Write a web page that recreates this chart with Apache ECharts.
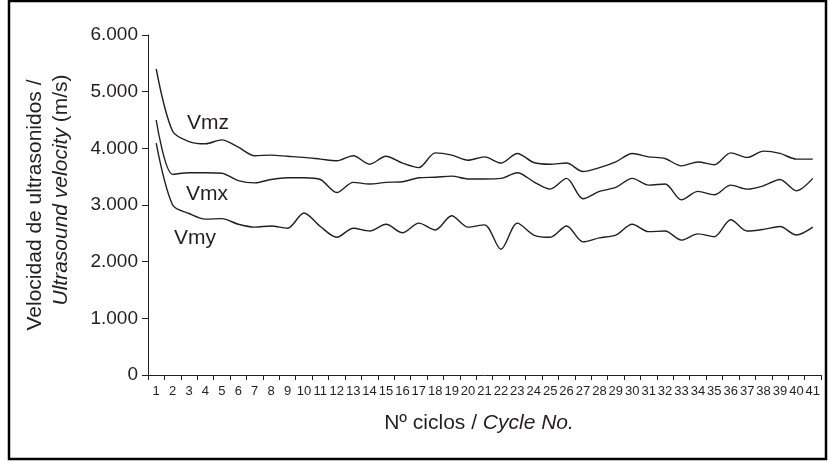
<!DOCTYPE html>
<html>
<head>
<meta charset="utf-8">
<script src="https://cdn.jsdelivr.net/npm/echarts@6/dist/echarts.min.js"></script>
<style>
  html, body { margin: 0; padding: 0; background: #fff; }
  #chart { width: 828px; height: 461px; }
</style>
</head>
<body>
<div id="chart"></div>
<script>
// ciclos 1..41
const cycles = Array.from({ length: 41 }, (_, i) => String(i + 1));

// velocidades (m/s)
const vmz = [5400, 4300, 4120, 4080, 4150, 4020, 3870, 3880, 3860, 3840,
  3810, 3780, 3870, 3720, 3860, 3740, 3660, 3920, 3880, 3790,
  3850, 3740, 3910, 3750, 3720, 3740, 3590, 3660, 3760, 3910,
  3850, 3820, 3690, 3760, 3710, 3920, 3840, 3950, 3910, 3810, 3810];
const vmx = [4500, 3540, 3570, 3570, 3560, 3430, 3390, 3450, 3480, 3480,
  3450, 3220, 3400, 3370, 3400, 3410, 3480, 3490, 3510, 3460,
  3460, 3470, 3570, 3410, 3280, 3470, 3110, 3240, 3310, 3470,
  3350, 3370, 3090, 3240, 3180, 3350, 3280, 3340, 3450, 3250, 3470];
const vmy = [4090, 3000, 2850, 2750, 2760, 2660, 2610, 2630, 2590, 2860,
  2620, 2430, 2590, 2540, 2660, 2510, 2680, 2560, 2810, 2610,
  2650, 2220, 2680, 2470, 2430, 2630, 2350, 2420, 2470, 2660,
  2530, 2540, 2380, 2490, 2440, 2740, 2540, 2570, 2620, 2470, 2610];

const ink = '#231f20';
const font = "'Liberation Sans', Arial, sans-serif";

function lineSeries(name, data) {
  return {
    name: name,
    type: 'line',
    data: data,
    symbol: 'none',
    smooth: 0.3,
    lineStyle: { color: ink, width: 1.4 },
    silent: true
  };
}

const chart = echarts.init(document.getElementById('chart'));
chart.setOption({
  animation: false,
  backgroundColor: '#fff',
  grid: { left: 148, right: 7, top: 35, bottom: 86, containLabel: false },
  xAxis: {
    type: 'category',
    data: cycles,
    boundaryGap: true,
    axisLine: { lineStyle: { color: ink, width: 1 } },
    axisTick: { show: true, interval: 0, length: 5, lineStyle: { color: ink } },
    axisLabel: { interval: 0, fontSize: 13, margin: 10, color: ink, fontFamily: font }
  },
  yAxis: {
    type: 'value',
    min: 0,
    max: 6000,
    interval: 1000,
    splitLine: { show: false },
    axisLine: { show: true, lineStyle: { color: ink, width: 1 } },
    axisTick: { show: true, length: 6, lineStyle: { color: ink } },
    axisLabel: {
      fontSize: 19,
      margin: 10,
      color: ink,
      fontFamily: font,
      formatter: v => v === 0 ? '0' : (v / 1000).toFixed(3)
    }
  },
  series: [
    lineSeries('Vmz', vmz),
    lineSeries('Vmx', vmx),
    lineSeries('Vmy', vmy)
  ],
  graphic: [
    {
      type: 'rect',
      shape: { x: 9, y: 1, width: 817, height: 458 },
      style: { fill: 'none', stroke: '#000', lineWidth: 2.5 },
      silent: true
    },
    { type: 'text', x: 208, y: 123, style: { text: 'Vmz', font: '21px ' + font, fill: ink, align: 'center', verticalAlign: 'middle' } },
    { type: 'text', x: 207, y: 194, style: { text: 'Vmx', font: '21px ' + font, fill: ink, align: 'center', verticalAlign: 'middle' } },
    { type: 'text', x: 195, y: 238, style: { text: 'Vmy', font: '21px ' + font, fill: ink, align: 'center', verticalAlign: 'middle' } },
    {
      type: 'text', x: 35, y: 205, rotation: Math.PI / 2,
      style: { text: 'Velocidad de ultrasonidos /', font: '21px ' + font, fill: ink, align: 'center', verticalAlign: 'middle' }
    },
    {
      type: 'text', x: 61, y: 190, rotation: Math.PI / 2,
      style: {
        text: '{i|Ultrasound velocity} (m/s)',
        font: '21px ' + font, fill: ink, align: 'center', verticalAlign: 'middle',
        rich: { i: { fontStyle: 'italic', fontSize: 21, fontFamily: font, fill: ink } }
      }
    },
    {
      type: 'text', x: 479, y: 423,
      style: {
        text: 'Nº ciclos / {i|Cycle No.}',
        font: '21px ' + font, fill: ink, align: 'center', verticalAlign: 'middle',
        rich: { i: { fontStyle: 'italic', fontSize: 21, fontFamily: font, fill: ink } }
      }
    }
  ]
});
</script>
</body>
</html>
